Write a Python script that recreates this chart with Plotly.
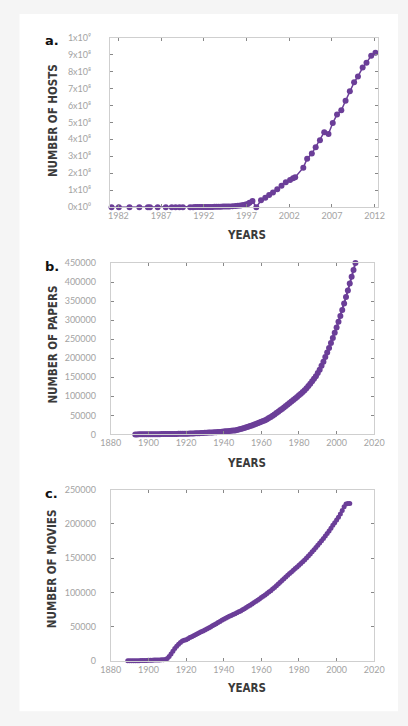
import plotly.graph_objects as go

# ---------------- data ----------------
host_years = [1981.2, 1982.05, 1983.3, 1984.45, 1985.45, 1985.7, 1986.6, 1987.55, 1988.25, 1988.7,
              1989.15, 1989.55, 1990.4, 1990.75, 1991.0, 1991.25, 1991.5, 1991.75, 1992.0, 1992.25,
              1992.5, 1992.75, 1993.0, 1993.25, 1993.5, 1993.75, 1994.0, 1994.25, 1994.5, 1994.75,
              1995.0, 1995.35, 1995.7, 1996.0, 1996.3, 1996.6, 1996.9, 1997.15, 1997.35, 1997.7,
              1998.15, 1998.7, 1999.2, 1999.65, 2000.1, 2000.6, 2001.1, 2001.6, 2002.1, 2002.45,
              2002.7, 2003.65, 2004.1, 2004.65, 2005.1, 2005.6, 2006.1, 2006.6, 2007.1, 2007.6,
              2008.1, 2008.6, 2009.1, 2009.6, 2010.05, 2010.6, 2011.05, 2011.6, 2012.1]
hosts = [213, 235, 562, 1024, 1961, 2308, 5089, 28174, 33000, 56000,
         80000, 130000, 313000, 376000, 535000, 617000, 727000, 890000, 992000, 1136000,
         1313000, 1486000, 1776000, 2056000, 2217000, 2600000, 3212000, 3500000, 3864000, 4300000,
         4852000, 5800000, 6642000, 8200000, 9472000, 12881000, 16146000, 19540000, 26000000, 36000000,
         0, 40600000, 55600000, 71300000, 86900000, 106000000, 127000000, 147000000, 160000000, 171000000,
         177000000, 233000000, 286000000, 316000000, 353000000, 394000000, 442000000, 432000000, 496000000, 546000000,
         571000000, 627000000, 684000000, 736000000, 771000000, 823000000, 852000000, 892000000, 910000000]

paper_years = list(range(1893, 2011))
papers = [50, 100, 150, 200, 250, 300, 350,
          400, 450, 500, 560, 620, 680, 740, 800, 870, 940,
          1000, 1080, 1160, 1240, 1320, 1400, 1480, 1560, 1650, 1750,
          1900, 2050, 2200, 2400, 2600, 2800, 3000, 3250, 3500, 3800,
          4100, 4400, 4700, 5000, 5300, 5600, 5900, 6200, 6600, 7000,
          7500, 8000, 8500, 9000, 9500, 10000, 10600, 11500, 12700, 14000,
          15500, 17000, 18600, 20200, 21800, 23500, 25300, 27100, 29000, 31000,
          33000, 35200, 37500, 40000, 42800, 45800, 49000, 52500, 56000, 59600,
          63200, 66900, 70700, 74600, 78500, 82400, 86300, 90200, 94100, 98000,
          103000, 107000, 111500, 116000, 121000, 127000, 133000, 139500, 146000, 153000,
          161000, 170000, 180000, 191000, 203000, 215000, 227000, 240000, 253000, 267000,
          281000, 296000, 311000, 327000, 344000, 361000, 378000, 396000, 414000, 432000, 450000]

movie_years = list(range(1889, 2008))
movies = [100, 150, 200, 250, 300, 350, 400, 500, 600, 700, 800,
          900, 1000, 1100, 1200, 1300, 1400, 1500, 1600, 1800, 2200,
          3500, 6500, 10000, 14000, 18000, 21500, 24500, 27000, 29000, 30200,
          31000, 32500, 34000, 35400, 36800, 38200, 39600, 41000, 42400, 43800,
          45200, 46600, 48000, 49600, 51200, 52800, 54400, 56000, 57600, 59200,
          60800, 62300, 63700, 65000, 66300, 67600, 68900, 70200, 71600, 73000,
          74600, 76200, 77900, 79600, 81300, 83000, 84800, 86700, 88600, 90500,
          92400, 94300, 96300, 98300, 100400, 102500, 104800, 107200, 109700, 112200,
          114800, 117400, 120000, 122600, 125100, 127500, 129900, 132300, 134700, 137100,
          139600, 142100, 144700, 147400, 150200, 153100, 156100, 159100, 162200, 165400,
          168700, 172000, 175300, 178700, 182200, 185800, 189600, 193600, 197900, 201500,
          205500, 209500, 214500, 219500, 225000, 229000, 229500, 229500]

host_ticks = [1982, 1987, 1992, 1997, 2002, 2007, 2012]
host_yticks = [0, 1e8, 2e8, 3e8, 4e8, 5e8, 6e8, 7e8, 8e8, 9e8, 1e9]
host_ylabels = ["0x10⁰", "1x10⁸", "2x10⁸", "3x10⁸", "4x10⁸", "5x10⁸", "6x10⁸",
                "7x10⁸", "8x10⁸", "9x10⁸", "1x10⁹"]
year_ticks = [1880, 1900, 1920, 1940, 1960, 1980, 2000, 2020]
paper_yticks = [0, 50000, 100000, 150000, 200000, 250000, 300000, 350000, 400000, 450000]
movie_yticks = [0, 50000, 100000, 150000, 200000, 250000]

# ---------------- style ----------------
W, H = 408, 726
PURPLE = "#6b3e98"
TICKFONT = dict(family="Lato, Roboto, DejaVu Sans", size=9, color="#a3a3a3")
TITLEFONT = dict(family="DejaVu Sans Condensed, Liberation Sans Narrow, DejaVu Sans",
                 size=11.5, color="#3a3a3a", weight="bold")
LINEC = "#cfcfcf"

def px_x(a, b):
    return [a / W, b / W]

def px_y(top, bottom):
    return [1 - bottom / H, 1 - top / H]

fig = go.Figure()

fig.add_trace(go.Scatter(x=host_years, y=hosts, mode="lines+markers", xaxis="x", yaxis="y",
                         line=dict(color=PURPLE, width=1.5), marker=dict(color=PURPLE, size=6),
                         cliponaxis=False, showlegend=False))
fig.add_trace(go.Scatter(x=paper_years, y=papers, mode="lines+markers", xaxis="x2", yaxis="y2",
                         line=dict(color=PURPLE, width=2), marker=dict(color=PURPLE, size=6),
                         cliponaxis=False, showlegend=False))
fig.add_trace(go.Scatter(x=movie_years, y=movies, mode="lines+markers", xaxis="x3", yaxis="y3",
                         line=dict(color=PURPLE, width=2), marker=dict(color=PURPLE, size=5),
                         cliponaxis=False, showlegend=False))

common = dict(showgrid=False, zeroline=False, showline=True, linecolor=LINEC, linewidth=1,
              mirror="allticks", ticks="inside", ticklen=3, tickcolor="#888", tickwidth=1,
              tickfont=TICKFONT, fixedrange=True)

fig.update_layout(
    width=W, height=H, autosize=False,
    margin=dict(l=0, r=0, t=0, b=0),
    paper_bgcolor="#f5f5f5", plot_bgcolor="white",
    xaxis=dict(domain=px_x(105, 387), anchor="y", range=[1981, 2012.4],
               tickvals=host_ticks, **common),
    yaxis=dict(domain=px_y(32, 204.3), anchor="x", range=[0, 1e9],
               tickvals=host_yticks, ticktext=host_ylabels, ticklabelstandoff=16, **common),
    xaxis2=dict(domain=px_x(106, 383), anchor="y2", range=[1880, 2020],
                tickvals=year_ticks, **common),
    yaxis2=dict(domain=px_y(261, 435), anchor="x2", range=[0, 450000],
                tickvals=paper_yticks, ticktext=[str(v) for v in paper_yticks],
                ticklabelstandoff=12, **common),
    xaxis3=dict(domain=px_x(106, 383), anchor="y3", range=[1880, 2020],
                tickvals=year_ticks, **common),
    yaxis3=dict(domain=px_y(491, 665), anchor="x3", range=[0, 250000],
                tickvals=movie_yticks, ticktext=[str(v) for v in movie_yticks],
                ticklabelstandoff=12, **common),
)

# white card on light gray page
fig.add_shape(type="rect", xref="paper", yref="paper", x0=10 / W, x1=1, y0=1 - 716 / H, y1=1 - 8 / H,
              fillcolor="white", line=dict(width=0), layer="below")

def ann(text, x, y, angle=0, font=TITLEFONT):
    fig.add_annotation(text=text, xref="paper", yref="paper", x=x / W, y=1 - y / H,
                       showarrow=False, textangle=angle, font=font,
                       xanchor="center", yanchor="middle")

LETTERFONT = dict(family="DejaVu Sans, Liberation Sans", size=13, color="#111", weight="bold")
ann("a.", 44, 35, font=LETTERFONT)
ann("b.", 44, 264, font=LETTERFONT)
ann("c.", 44, 495, font=LETTERFONT)
ann("NUMBER OF HOSTS", 45, 116, angle=-90)
ann("NUMBER OF PAPERS", 45, 344, angle=-90)
ann("NUMBER OF MOVIES", 45, 571, angle=-90)
ann("YEARS", 248.5, 232.5)
ann("YEARS", 249, 464)
ann("YEARS", 249, 692)

fig.write_html("out.html", config={"displayModeBar": False},
               post_script="document.body.style.margin='0';document.body.style.overflow='hidden';")
